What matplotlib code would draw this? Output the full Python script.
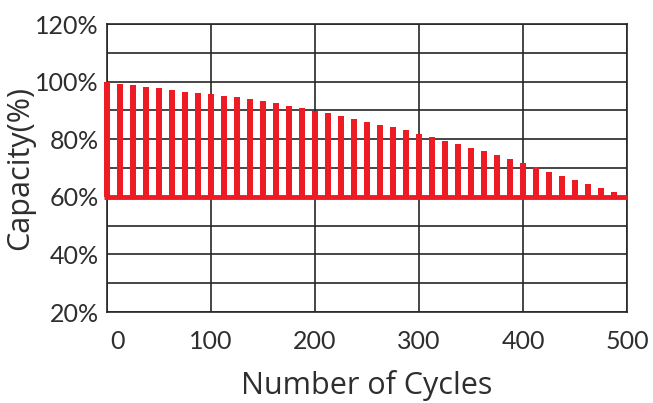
import matplotlib
matplotlib.use("Agg")
import matplotlib.pyplot as plt
from matplotlib.ticker import MultipleLocator, FixedLocator
import matplotlib.transforms as mtransforms
import numpy as np

cycles = [0, 12.5, 25, 37.5, 50, 62.5, 75, 87.5, 100, 112.5, 125, 137.5, 150, 162.5,
          175, 187.5, 200, 212.5, 225, 237.5, 250, 262.5, 275, 287.5, 300, 312.5,
          325, 337.5, 350, 362.5, 375, 387.5, 400, 412.5, 425, 437.5, 450, 462.5,
          475, 487.5]
capacity = [100, 99.3, 98.7, 98.2, 97.7, 97.0, 96.5, 96.1, 95.6, 95.1, 94.5, 93.8,
            93.2, 92.4, 91.6, 90.7, 89.9, 89.0, 88.1, 87.1, 86.1, 85.1, 84.2, 83.1,
            81.9, 80.8, 79.4, 78.2, 77.0, 75.8, 74.4, 73.1, 71.8, 70.3, 68.7, 67.3,
            65.9, 64.5, 63.0, 61.5]
baseline = 60
x_ticks = [0, 100, 200, 300, 400, 500]
y_ticks = [20, 40, 60, 80, 100, 120]
y_tick_labels = ["20%", "40%", "60%", "80%", "100%", "120%"]

RED = "#ED1C24"
TXT = "#2e2e2e"
plt.rcParams['font.family'] = ['Lato', 'DejaVu Sans']

fig = plt.figure(figsize=(6.53, 4.03), dpi=100)
ax = fig.add_axes([107/653, 1-312/403, 520/653, 288/403])

heights = np.array(capacity) - baseline
ax.bar(cycles, heights, bottom=baseline, width=5.0, color=RED, zorder=3, clip_on=False)
ax.plot([-2.5, 500], [baseline, baseline], color=RED, lw=3.5, zorder=4,
        solid_capstyle='butt', clip_on=False)

ax.set_xlim(0, 500)
ax.set_ylim(20, 120)
ax.xaxis.set_major_locator(FixedLocator(x_ticks))
ax.yaxis.set_major_locator(FixedLocator(y_ticks))
ax.yaxis.set_minor_locator(MultipleLocator(10))
ax.set_yticklabels(y_tick_labels)
ax.grid(True, which='both', axis='y', color='#262626', lw=1.2, zorder=1)
ax.grid(True, which='major', axis='x', color='#262626', lw=1.2, zorder=1)
ax.tick_params(which='both', length=0, labelsize=18, colors=TXT)
ax.tick_params(axis='x', pad=13)
ax.tick_params(axis='y', pad=6)
for s in ax.spines.values():
    s.set_color('#262626')
    s.set_linewidth(1.2)

# shift "0" label right as in reference
lbl0 = ax.get_xticklabels()[0]
lbl0.set_transform(lbl0.get_transform() + mtransforms.ScaledTranslation(10/100, 0, fig.dpi_scale_trans))

ax.set_xlabel("Number of Cycles", fontsize=22, color=TXT, labelpad=12,
              family=['Open Sans', 'DejaVu Sans'])
ax.set_ylabel("Capacity(%)", fontsize=22, color=TXT, labelpad=0,
              family=['Open Sans', 'DejaVu Sans'])

fig.savefig("out.png", dpi=100)
